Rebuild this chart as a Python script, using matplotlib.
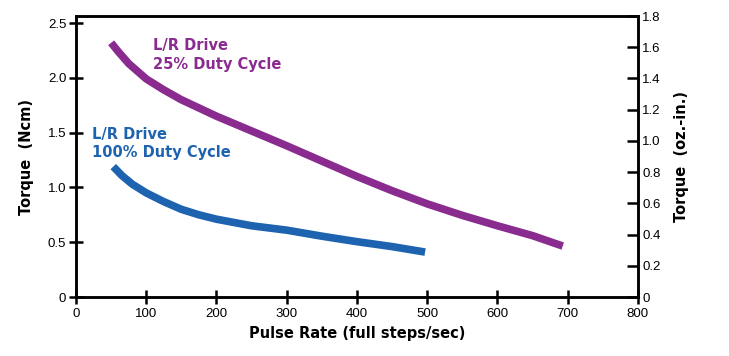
import numpy as np
import matplotlib.pyplot as plt

plt.rcParams['font.family'] = ['Liberation Sans', 'DejaVu Sans']

# torque curves (Ncm vs full steps/sec)
rate_25 = [50, 60, 75, 100, 125, 150, 200, 250, 300, 350, 400, 450, 500, 550, 600, 650, 693]
torque_25 = [2.32, 2.24, 2.13, 1.99, 1.89, 1.80, 1.65, 1.515, 1.38, 1.24, 1.10, 0.97, 0.85, 0.745, 0.65, 0.56, 0.465]

rate_100 = [53, 65, 80, 100, 125, 150, 175, 200, 250, 300, 350, 400, 450, 497]
torque_100 = [1.19, 1.11, 1.03, 0.95, 0.87, 0.80, 0.75, 0.71, 0.65, 0.61, 0.555, 0.505, 0.46, 0.41]

x_ticks = [0, 100, 200, 300, 400, 500, 600, 700, 800]
left_ticks = [0, 0.5, 1.0, 1.5, 2.0, 2.5]
left_labels = ['0', '0.5', '1.0', '1.5', '2.0', '2.5']
right_ticks = [0, 0.2, 0.4, 0.6, 0.8, 1.0, 1.2, 1.4, 1.6, 1.8]
right_labels = ['0', '0.2', '0.4', '0.6', '0.8', '1.0', '1.2', '1.4', '1.6', '1.8']

purple = '#8a2b8f'
blue = '#1e63b0'
bold_font = ['DejaVu Sans']

fig = plt.figure(figsize=(7.29, 3.56), dpi=100)
ax = fig.add_axes([0.1043, 0.1657, 0.7707, 0.7893])

ax.plot(rate_25, torque_25, color=purple, lw=5.5, solid_capstyle='butt', solid_joinstyle='round')
ax.plot(rate_100, torque_100, color=blue, lw=5.5, solid_capstyle='butt', solid_joinstyle='round')

ax.set_xlim(0, 800)
ax.set_ylim(0, 2.564)
ax.set_xticks(x_ticks)
ax.set_yticks(left_ticks)
ax.set_yticklabels(left_labels)
ax.tick_params(axis='both', direction='inout', length=10, width=1.8, labelsize=9.5, colors='black')
ax.tick_params(axis='y', pad=2)
ax.tick_params(axis='x', pad=3)
for s in ax.spines.values():
    s.set_linewidth(1.8)

ax.set_xlabel('Pulse Rate (full steps/sec)', fontsize=10.5, fontweight='bold', family=bold_font, labelpad=4)
ax.set_ylabel('Torque  (Ncm)', fontsize=10.5, fontweight='bold', family=bold_font, labelpad=10)

ax.text(109, 2.36, 'L/R Drive\n25% Duty Cycle', color=purple, fontsize=10.5, family=bold_font,
        fontweight='bold', ha='left', va='top', linespacing=1.3)
ax.text(23, 1.555, 'L/R Drive\n100% Duty Cycle', color=blue, fontsize=10.5, family=bold_font,
        fontweight='bold', ha='left', va='top', linespacing=1.3)

ax2 = ax.twinx()
ax2.set_ylim(0, 1.8)
ax2.set_yticks(right_ticks)
ax2.set_yticklabels(right_labels)
ax2.tick_params(axis='y', direction='in', length=8, width=1.8, labelsize=9.5, pad=3)
for s in ax2.spines.values():
    s.set_linewidth(1.8)
ax2.set_ylabel('Torque  (oz.-in.)', fontsize=10.5, fontweight='bold', family=bold_font, rotation=90, labelpad=10)

fig.savefig('out.png', dpi=100)
